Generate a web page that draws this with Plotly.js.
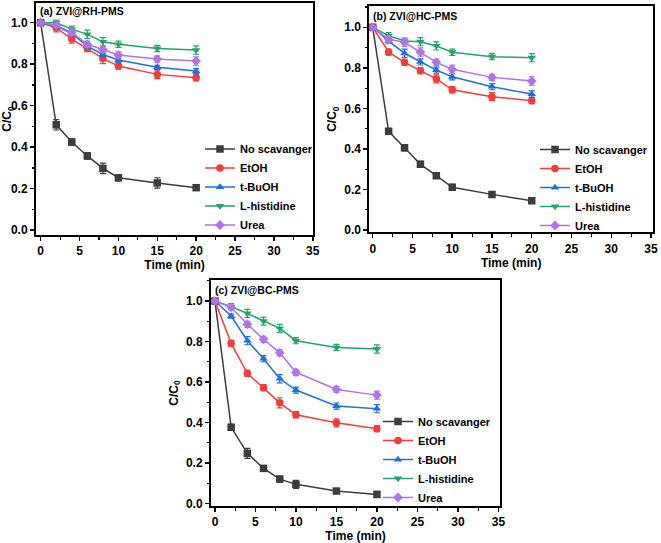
<!DOCTYPE html>
<html>
<head>
<meta charset="utf-8">
<script src="https://cdn.plot.ly/plotly-3.0.1.min.js"></script>
<style>html,body{margin:0;padding:0;background:#fff;}#chart{width:661px;height:543px;}</style>
</head>
<body>
<div id="chart"></div>
<script>
// ---- data ----
const timeMin = [0, 2, 4, 6, 8, 10, 15, 20];
const seriesNames = ['No scavanger', 'EtOH', 't-BuOH', 'L-histidine', 'Urea'];
const panelTitles = ['(a) ZVI@RH-PMS', '(b) ZVI@HC-PMS', '(c) ZVI@BC-PMS'];
const xTickVals = [0, 5, 10, 15, 20, 25, 30, 35];
const yTickVals = [0.0, 0.2, 0.4, 0.6, 0.8, 1.0];

// (a) ZVI@RH-PMS
const rhNoScav = [1.0, 0.508, 0.425, 0.358, 0.298, 0.253, 0.228, 0.205];
const rhEtOH   = [1.0, 0.976, 0.921, 0.876, 0.828, 0.791, 0.751, 0.735];
const rhTBuOH  = [1.0, 0.984, 0.948, 0.887, 0.847, 0.820, 0.785, 0.767];
const rhLHis   = [1.0, 1.000, 0.969, 0.944, 0.908, 0.896, 0.876, 0.868];
const rhUrea   = [1.0, 0.988, 0.953, 0.896, 0.871, 0.844, 0.825, 0.815];
const rhNoScavErr = [0, 0.025, 0.015, 0.015, 0.025, 0.015, 0.025, 0.012];
const rhEtOHErr   = [0, 0.020, 0.020, 0.015, 0.025, 0.015, 0.020, 0.015];
const rhTBuOHErr  = [0, 0.010, 0.010, 0.010, 0.012, 0.010, 0.010, 0.012];
const rhLHisErr   = [0, 0.012, 0.015, 0.020, 0.020, 0.015, 0.015, 0.020];
const rhUreaErr   = [0, 0.010, 0.015, 0.015, 0.015, 0.015, 0.015, 0.020];

// (b) ZVI@HC-PMS
const hcNoScav = [1.0, 0.487, 0.406, 0.324, 0.268, 0.211, 0.176, 0.145];
const hcEtOH   = [1.0, 0.878, 0.827, 0.786, 0.746, 0.692, 0.658, 0.638];
const hcTBuOH  = [1.0, 0.932, 0.872, 0.829, 0.789, 0.756, 0.707, 0.671];
const hcLHis   = [1.0, 0.959, 0.932, 0.929, 0.908, 0.877, 0.855, 0.850];
const hcUrea   = [1.0, 0.941, 0.926, 0.878, 0.827, 0.793, 0.753, 0.735];
const hcNoScavErr = [0, 0.010, 0.015, 0.015, 0.010, 0.015, 0.012, 0.010];
const hcEtOHErr   = [0, 0.015, 0.015, 0.015, 0.020, 0.015, 0.020, 0.015];
const hcTBuOHErr  = [0, 0.010, 0.020, 0.015, 0.015, 0.015, 0.015, 0.015];
const hcLHisErr   = [0, 0.015, 0.015, 0.020, 0.020, 0.015, 0.015, 0.020];
const hcUreaErr   = [0, 0.015, 0.020, 0.020, 0.015, 0.020, 0.015, 0.020];

// (c) ZVI@BC-PMS
const bcNoScav = [1.0, 0.376, 0.247, 0.173, 0.120, 0.094, 0.061, 0.044];
const bcEtOH   = [1.0, 0.791, 0.643, 0.572, 0.497, 0.438, 0.398, 0.369];
const bcTBuOH  = [1.0, 0.926, 0.804, 0.715, 0.616, 0.560, 0.481, 0.468];
const bcLHis   = [1.0, 0.972, 0.939, 0.901, 0.865, 0.804, 0.771, 0.763];
const bcUrea   = [1.0, 0.969, 0.885, 0.811, 0.744, 0.648, 0.563, 0.535];
const bcNoScavErr = [0, 0.015, 0.025, 0.008, 0.015, 0.020, 0.012, 0.015];
const bcEtOHErr   = [0, 0.015, 0.015, 0.015, 0.025, 0.015, 0.020, 0.015];
const bcTBuOHErr  = [0, 0.010, 0.020, 0.015, 0.020, 0.015, 0.015, 0.020];
const bcLHisErr   = [0, 0.015, 0.020, 0.020, 0.020, 0.015, 0.015, 0.020];
const bcUreaErr   = [0, 0.010, 0.015, 0.015, 0.015, 0.015, 0.015, 0.020];

// ---- styles ----
const colors = ['#3d3d3d', '#f23c3c', '#1f6fdc', '#23a567', '#b272e8'];
const symbols = ['square', 'circle', 'triangle-up', 'triangle-down', 'diamond'];
const FONT = 'Liberation Sans, Arial, sans-serif';

const panels = [
  {vals: [rhNoScav, rhEtOH, rhTBuOH, rhLHis, rhUrea], errs: [rhNoScavErr, rhEtOHErr, rhTBuOHErr, rhLHisErr, rhUreaErr], xa: 'x', ya: 'y', legend: 'legend'},
  {vals: [hcNoScav, hcEtOH, hcTBuOH, hcLHis, hcUrea], errs: [hcNoScavErr, hcEtOHErr, hcTBuOHErr, hcLHisErr, hcUreaErr], xa: 'x2', ya: 'y2', legend: 'legend2'},
  {vals: [bcNoScav, bcEtOH, bcTBuOH, bcLHis, bcUrea], errs: [bcNoScavErr, bcEtOHErr, bcTBuOHErr, bcLHisErr, bcUreaErr], xa: 'x3', ya: 'y3', legend: 'legend3'}
];

const traces = [];
panels.forEach(p => {
  p.vals.forEach((v, i) => {
    traces.push({
      type: 'scatter', mode: 'lines+markers',
      x: timeMin, y: v, name: seriesNames[i],
      xaxis: p.xa, yaxis: p.ya, legend: p.legend,
      line: {color: colors[i], width: 1.5},
      marker: {symbol: symbols[i], size: 7.5, color: colors[i]},
      error_y: {type: 'data', array: p.errs[i], visible: true, color: colors[i], thickness: 1.2, width: 3}
    });
  });
});

const W = 661, H = 543;
function dx(a, b) { return [a / W, b / W]; }
function dy(top, bottom) { return [1 - bottom / H, 1 - top / H]; }

function xAxis(domain, range, anchor) {
  return {
    domain: domain, range: range, anchor: anchor,
    showline: true, mirror: true, linecolor: '#000', linewidth: 2,
    showgrid: false, zeroline: false,
    ticks: 'outside', ticklen: 4, tickwidth: 1.5, tickcolor: '#000',
    tickvals: xTickVals,
    minor: {ticks: 'outside', ticklen: 2.5, tickwidth: 1.2, tickcolor: '#000', dtick: 2.5, showgrid: false},
    tickfont: {family: FONT, size: 12, color: '#000', weight: 700},
    title: {text: 'Time (min)', font: {family: FONT, size: 12, color: '#000', weight: 700}, standoff: 2}
  };
}
function yAxis(domain, range, anchor) {
  return {
    domain: domain, range: range, anchor: anchor,
    showline: true, mirror: true, linecolor: '#000', linewidth: 2,
    showgrid: false, zeroline: false,
    ticks: 'outside', ticklen: 4, tickwidth: 1.5, tickcolor: '#000',
    tickvals: yTickVals, tickformat: '.1f',
    minor: {ticks: 'outside', ticklen: 2.5, tickwidth: 1.2, tickcolor: '#000', dtick: 0.1, showgrid: false},
    tickfont: {family: FONT, size: 12, color: '#000', weight: 700},
    title: {text: 'C/C<sub>0</sub>', font: {family: FONT, size: 12, color: '#000', weight: 700}, standoff: 5}
  };
}
function legendAt(xpx, ycenter) {
  return {
    x: xpx / W, y: 1 - ycenter / H, xanchor: 'left', yanchor: 'middle',
    bgcolor: 'rgba(0,0,0,0)', borderwidth: 0,
    font: {family: FONT, size: 11, color: '#000', weight: 700}
  };
}
function titleAnn(text, xpx, ypx) {
  return {
    text: text, xref: 'paper', yref: 'paper', x: xpx / W, y: 1 - ypx / H,
    xanchor: 'left', yanchor: 'middle', showarrow: false,
    font: {family: FONT, size: 10.5, color: '#000', weight: 700}
  };
}

const layout = {
  width: W, height: H,
  margin: {l: 0, r: 0, t: 0, b: 0},
  paper_bgcolor: '#fff', plot_bgcolor: '#fff',
  showlegend: true,
  font: {family: FONT, color: '#000'},
  xaxis: xAxis(dx(36, 313), [-0.6, 35.03], 'y'),
  yaxis: yAxis(dy(3, 235), [-0.023, 1.095], 'x'),
  xaxis2: xAxis(dx(369.3, 653), [-0.43, 35.25], 'y2'),
  yaxis2: yAxis(dy(6, 232.3), [-0.011, 1.105], 'x2'),
  xaxis3: xAxis(dx(211, 500), [-0.49, 35.2], 'y3'),
  yaxis3: yAxis(dy(280, 506), [-0.013, 1.104], 'x3'),
  legend: legendAt(200, 187),
  legend2: legendAt(535, 187.5),
  legend3: legendAt(378, 459.5),
  annotations: [
    titleAnn(panelTitles[0], 38, 11),
    titleAnn(panelTitles[1], 371, 15.7),
    titleAnn(panelTitles[2], 213, 290)
  ]
};

Plotly.newPlot('chart', traces, layout, {displayModeBar: false, staticPlot: true});
</script>
</body>
</html>
